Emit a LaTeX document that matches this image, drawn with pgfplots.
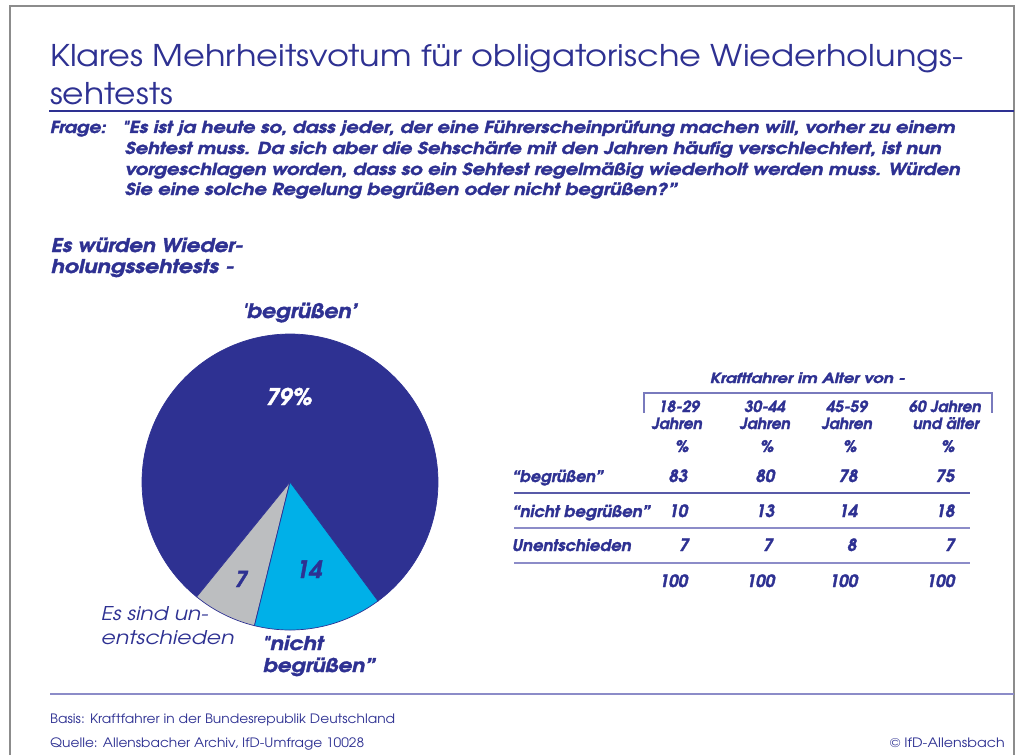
\documentclass[border=0pt]{standalone}
\usepackage{pgfplots}
\pgfplotsset{compat=1.18}
\usepackage{fontspec}
\setmainfont{texgyreadventor}[Extension=.otf, UprightFont=*-regular, BoldFont=*-bold,
  ItalicFont=*-italic, BoldItalicFont=*-bolditalic, Ligatures=TeXOff,
  BoldItalicFeatures={FakeBold=1.6}]

\definecolor{tblue}{RGB}{46,49,146}
\definecolor{pieblue}{RGB}{46,49,146}
\definecolor{piecyan}{RGB}{0,176,232}
\definecolor{piegrey}{RGB}{188,190,192}
\definecolor{rulelight}{RGB}{140,140,200}
\definecolor{framegrey}{RGB}{140,140,140}
\newcommand{\fs}[1]{\fontsize{#1}{#1}\selectfont}
% stretch a line horizontally to a given width, height unchanged
\newcommand{\hfit}[2]{\resizebox{#1bp}{\height}{#2}}

% pie shares (percent)
\def\vJa{79}
\def\vUn{7}
\def\vNein{14}

\begin{document}
\begin{tikzpicture}
\pgfmathsetmacro\aS{-53.5}
\pgfmathsetmacro\aA{\aS+3.6*\vJa}
\pgfmathsetmacro\aB{\aA+3.6*\vUn}
\pgfmathsetmacro\aC{\aB+3.6*\vNein}
\begin{axis}[
  scale only axis, width=1018bp, height=755bp,
  xmin=0, xmax=1018, ymin=0, ymax=755, y dir=reverse,
  hide axis, clip=false,
]
\path (0,0) rectangle (1018,755);
% frame
\draw[framegrey, line width=1.5bp] (10,755) -- (10,6) -- (1014,6) -- (1014,755);

% title
\node[anchor=base west, inner sep=0, text=tblue, font=\fs{30}] at (50,67)
  {\hfit{913}{Klares Mehrheitsvotum für obligatorische Wiederholungs-}};
\node[anchor=base west, inner sep=0, text=tblue, font=\fs{30}] at (50,104) {\hfit{123}{sehtests}};
\draw[tblue, line width=1.2bp] (49,111) -- (1014,111);

% question
\node[anchor=base west, inner sep=0, text=tblue, font=\fs{16.5}\bfseries\itshape] at (50,133) {\hfit{56}{Frage:}};
\node[anchor=base west, inner sep=0, text=tblue, font=\fs{16.5}\bfseries\itshape] at (122,133)
  {\hfit{833}{"Es ist ja heute so, dass jeder, der eine Führerscheinprüfung machen will, vorher zu einem}};
\node[anchor=base west, inner sep=0, text=tblue, font=\fs{16.5}\bfseries\itshape] at (125,154)
  {\hfit{816}{Sehtest muss. Da sich aber die Sehschärfe mit den Jahren häufig verschlechtert, ist nun}};
\node[anchor=base west, inner sep=0, text=tblue, font=\fs{16.5}\bfseries\itshape] at (125,175)
  {\hfit{835}{vorgeschlagen worden, dass so ein Sehtest regelmäßig wiederholt werden muss. Würden}};
\node[anchor=base west, inner sep=0, text=tblue, font=\fs{16.5}\bfseries\itshape] at (125,195)
  {\hfit{552}{Sie eine solche Regelung begrüßen oder nicht begrüßen?”}};

\node[anchor=base west, inner sep=0, text=tblue, font=\fs{19}\bfseries\itshape] at (51,252) {\hfit{192}{Es würden Wieder-}};
\node[anchor=base west, inner sep=0, text=tblue, font=\fs{19}\bfseries\itshape] at (51,273) {\hfit{183}{holungssehtests -}};

% pie
\addplot[fill=pieblue, draw=pieblue, line width=0.7bp, domain=\aS:\aA, samples=200, variable=\t]
  ({290+148*cos(\t)}, {482-148*sin(\t)}) -- (290,482) -- cycle;
\addplot[fill=piegrey, draw=pieblue, line width=0.7bp, domain=\aA:\aB, samples=30, variable=\t]
  ({290+148*cos(\t)}, {482-148*sin(\t)}) -- (290,482) -- cycle;
\addplot[fill=piecyan, draw=pieblue, line width=0.7bp, domain=\aB:\aC, samples=50, variable=\t]
  ({290+148*cos(\t)}, {482-148*sin(\t)}) -- (290,482) -- cycle;

\node[anchor=base west, inner sep=0, text=tblue, font=\fs{20}\bfseries\itshape] at (242,318) {\hfit{115}{'begrüßen’}};
\node[anchor=base west, inner sep=0, text=white, font=\fs{23}\bfseries\itshape] at (266,405) {\hfit{46}{79\%}};
\node[anchor=base, inner sep=0, text=tblue, font=\fs{22}\bfseries\itshape] at (241,587) {7};
\node[anchor=base, inner sep=0, text=tblue, font=\fs{24}\bfseries\itshape] at (309,578) {14};
\node[anchor=base west, inner sep=0, text=tblue, font=\fs{19}\itshape] at (101,620) {\hfit{107}{Es sind un-}};
\node[anchor=base west, inner sep=0, text=tblue, font=\fs{19}\itshape] at (101,644) {\hfit{133}{entschieden}};
\node[anchor=base west, inner sep=0, text=tblue, font=\fs{19}\bfseries\itshape] at (262,650) {\hfit{61}{"nicht}};
\node[anchor=base west, inner sep=0, text=tblue, font=\fs{19}\bfseries\itshape] at (263,672) {\hfit{112}{begrüßen”}};

% table
\node[anchor=base west, inner sep=0, text=tblue, font=\fs{14}\bfseries\itshape] at (710,383) {\hfit{195}{Kraftfahrer im Alter von -}};
\draw[rulelight!80!tblue, line width=1.2bp] (644,413) -- (644,393) -- (992,393) -- (992,413);
\node[anchor=base, inner sep=0, text=tblue, font=\fs{15.5}\bfseries\itshape] at (679,412) {18-29};
\node[anchor=base, inner sep=0, text=tblue, font=\fs{15.5}\bfseries\itshape] at (677,429) {Jahren};
\node[anchor=base, inner sep=0, text=tblue, font=\fs{15.5}\bfseries\itshape] at (765,412) {30-44};
\node[anchor=base, inner sep=0, text=tblue, font=\fs{15.5}\bfseries\itshape] at (765,429) {Jahren};
\node[anchor=base, inner sep=0, text=tblue, font=\fs{15.5}\bfseries\itshape] at (847,412) {45-59};
\node[anchor=base, inner sep=0, text=tblue, font=\fs{15.5}\bfseries\itshape] at (847,429) {Jahren};
\node[anchor=base, inner sep=0, text=tblue, font=\fs{15.5}\bfseries\itshape] at (945,412) {60 Jahren};
\node[anchor=base, inner sep=0, text=tblue, font=\fs{15.5}\bfseries\itshape] at (946,429) {und älter};
\node[anchor=base, inner sep=0, text=tblue, font=\fs{16}\bfseries\itshape] at (682,452) {\%};
\node[anchor=base, inner sep=0, text=tblue, font=\fs{16}\bfseries\itshape] at (767,452) {\%};
\node[anchor=base, inner sep=0, text=tblue, font=\fs{16}\bfseries\itshape] at (850,452) {\%};
\node[anchor=base, inner sep=0, text=tblue, font=\fs{16}\bfseries\itshape] at (948,452) {\%};

\node[anchor=base west, inner sep=0, text=tblue, font=\fs{16}\bfseries\itshape] at (512,482) {\hfit{91}{“begrüßen”}};
\node[anchor=base west, inner sep=0, text=tblue, font=\fs{16}\bfseries\itshape] at (512,517) {\hfit{138}{“nicht begrüßen”}};
\node[anchor=base west, inner sep=0, text=tblue, font=\fs{16}\bfseries\itshape] at (512,551) {\hfit{119}{Unentschieden}};

% values, right aligned per column
\node[anchor=base east, inner sep=0, text=tblue, font=\fs{17}\bfseries\itshape] at (688,482) {83};
\node[anchor=base east, inner sep=0, text=tblue, font=\fs{17}\bfseries\itshape] at (775,482) {80};
\node[anchor=base east, inner sep=0, text=tblue, font=\fs{17}\bfseries\itshape] at (858,482) {78};
\node[anchor=base east, inner sep=0, text=tblue, font=\fs{17}\bfseries\itshape] at (955,482) {75};
\node[anchor=base east, inner sep=0, text=tblue, font=\fs{17}\bfseries\itshape] at (688,517) {10};
\node[anchor=base east, inner sep=0, text=tblue, font=\fs{17}\bfseries\itshape] at (775,517) {13};
\node[anchor=base east, inner sep=0, text=tblue, font=\fs{17}\bfseries\itshape] at (858,517) {14};
\node[anchor=base east, inner sep=0, text=tblue, font=\fs{17}\bfseries\itshape] at (955,517) {18};
\node[anchor=base east, inner sep=0, text=tblue, font=\fs{17}\bfseries\itshape] at (689,551) {7};
\node[anchor=base east, inner sep=0, text=tblue, font=\fs{17}\bfseries\itshape] at (773,551) {7};
\node[anchor=base east, inner sep=0, text=tblue, font=\fs{17}\bfseries\itshape] at (857,551) {8};
\node[anchor=base east, inner sep=0, text=tblue, font=\fs{17}\bfseries\itshape] at (955,551) {7};
\node[anchor=base east, inner sep=0, text=tblue, font=\fs{17}\bfseries\itshape] at (688,587) {100};
\node[anchor=base east, inner sep=0, text=tblue, font=\fs{17}\bfseries\itshape] at (775,587) {100};
\node[anchor=base east, inner sep=0, text=tblue, font=\fs{17}\bfseries\itshape] at (858,587) {100};
\node[anchor=base east, inner sep=0, text=tblue, font=\fs{17}\bfseries\itshape] at (955,587) {100};
\draw[tblue!80!white, line width=1.3bp] (514,493) -- (970,493);
\draw[rulelight, line width=2bp] (514,528) -- (970,528);
\draw[rulelight, line width=2bp] (514,563) -- (970,563);

% footer
\draw[rulelight, line width=2bp] (50,694) -- (1014,694);
\node[anchor=base west, inner sep=0, text=tblue, font=\fs{13}] at (50,723) {\hfit{345}{Basis: Kraftfahrer in der Bundesrepublik Deutschland}};
\node[anchor=base west, inner sep=0, text=tblue, font=\fs{13}] at (50,747) {\hfit{314}{Quelle: Allensbacher Archiv, IfD-Umfrage 10028}};
\node[anchor=base east, inner sep=0, text=tblue, font=\fs{13}] at (1005,747) {\hfit{115}{© IfD-Allensbach}};
\end{axis}
\end{tikzpicture}
\end{document}
